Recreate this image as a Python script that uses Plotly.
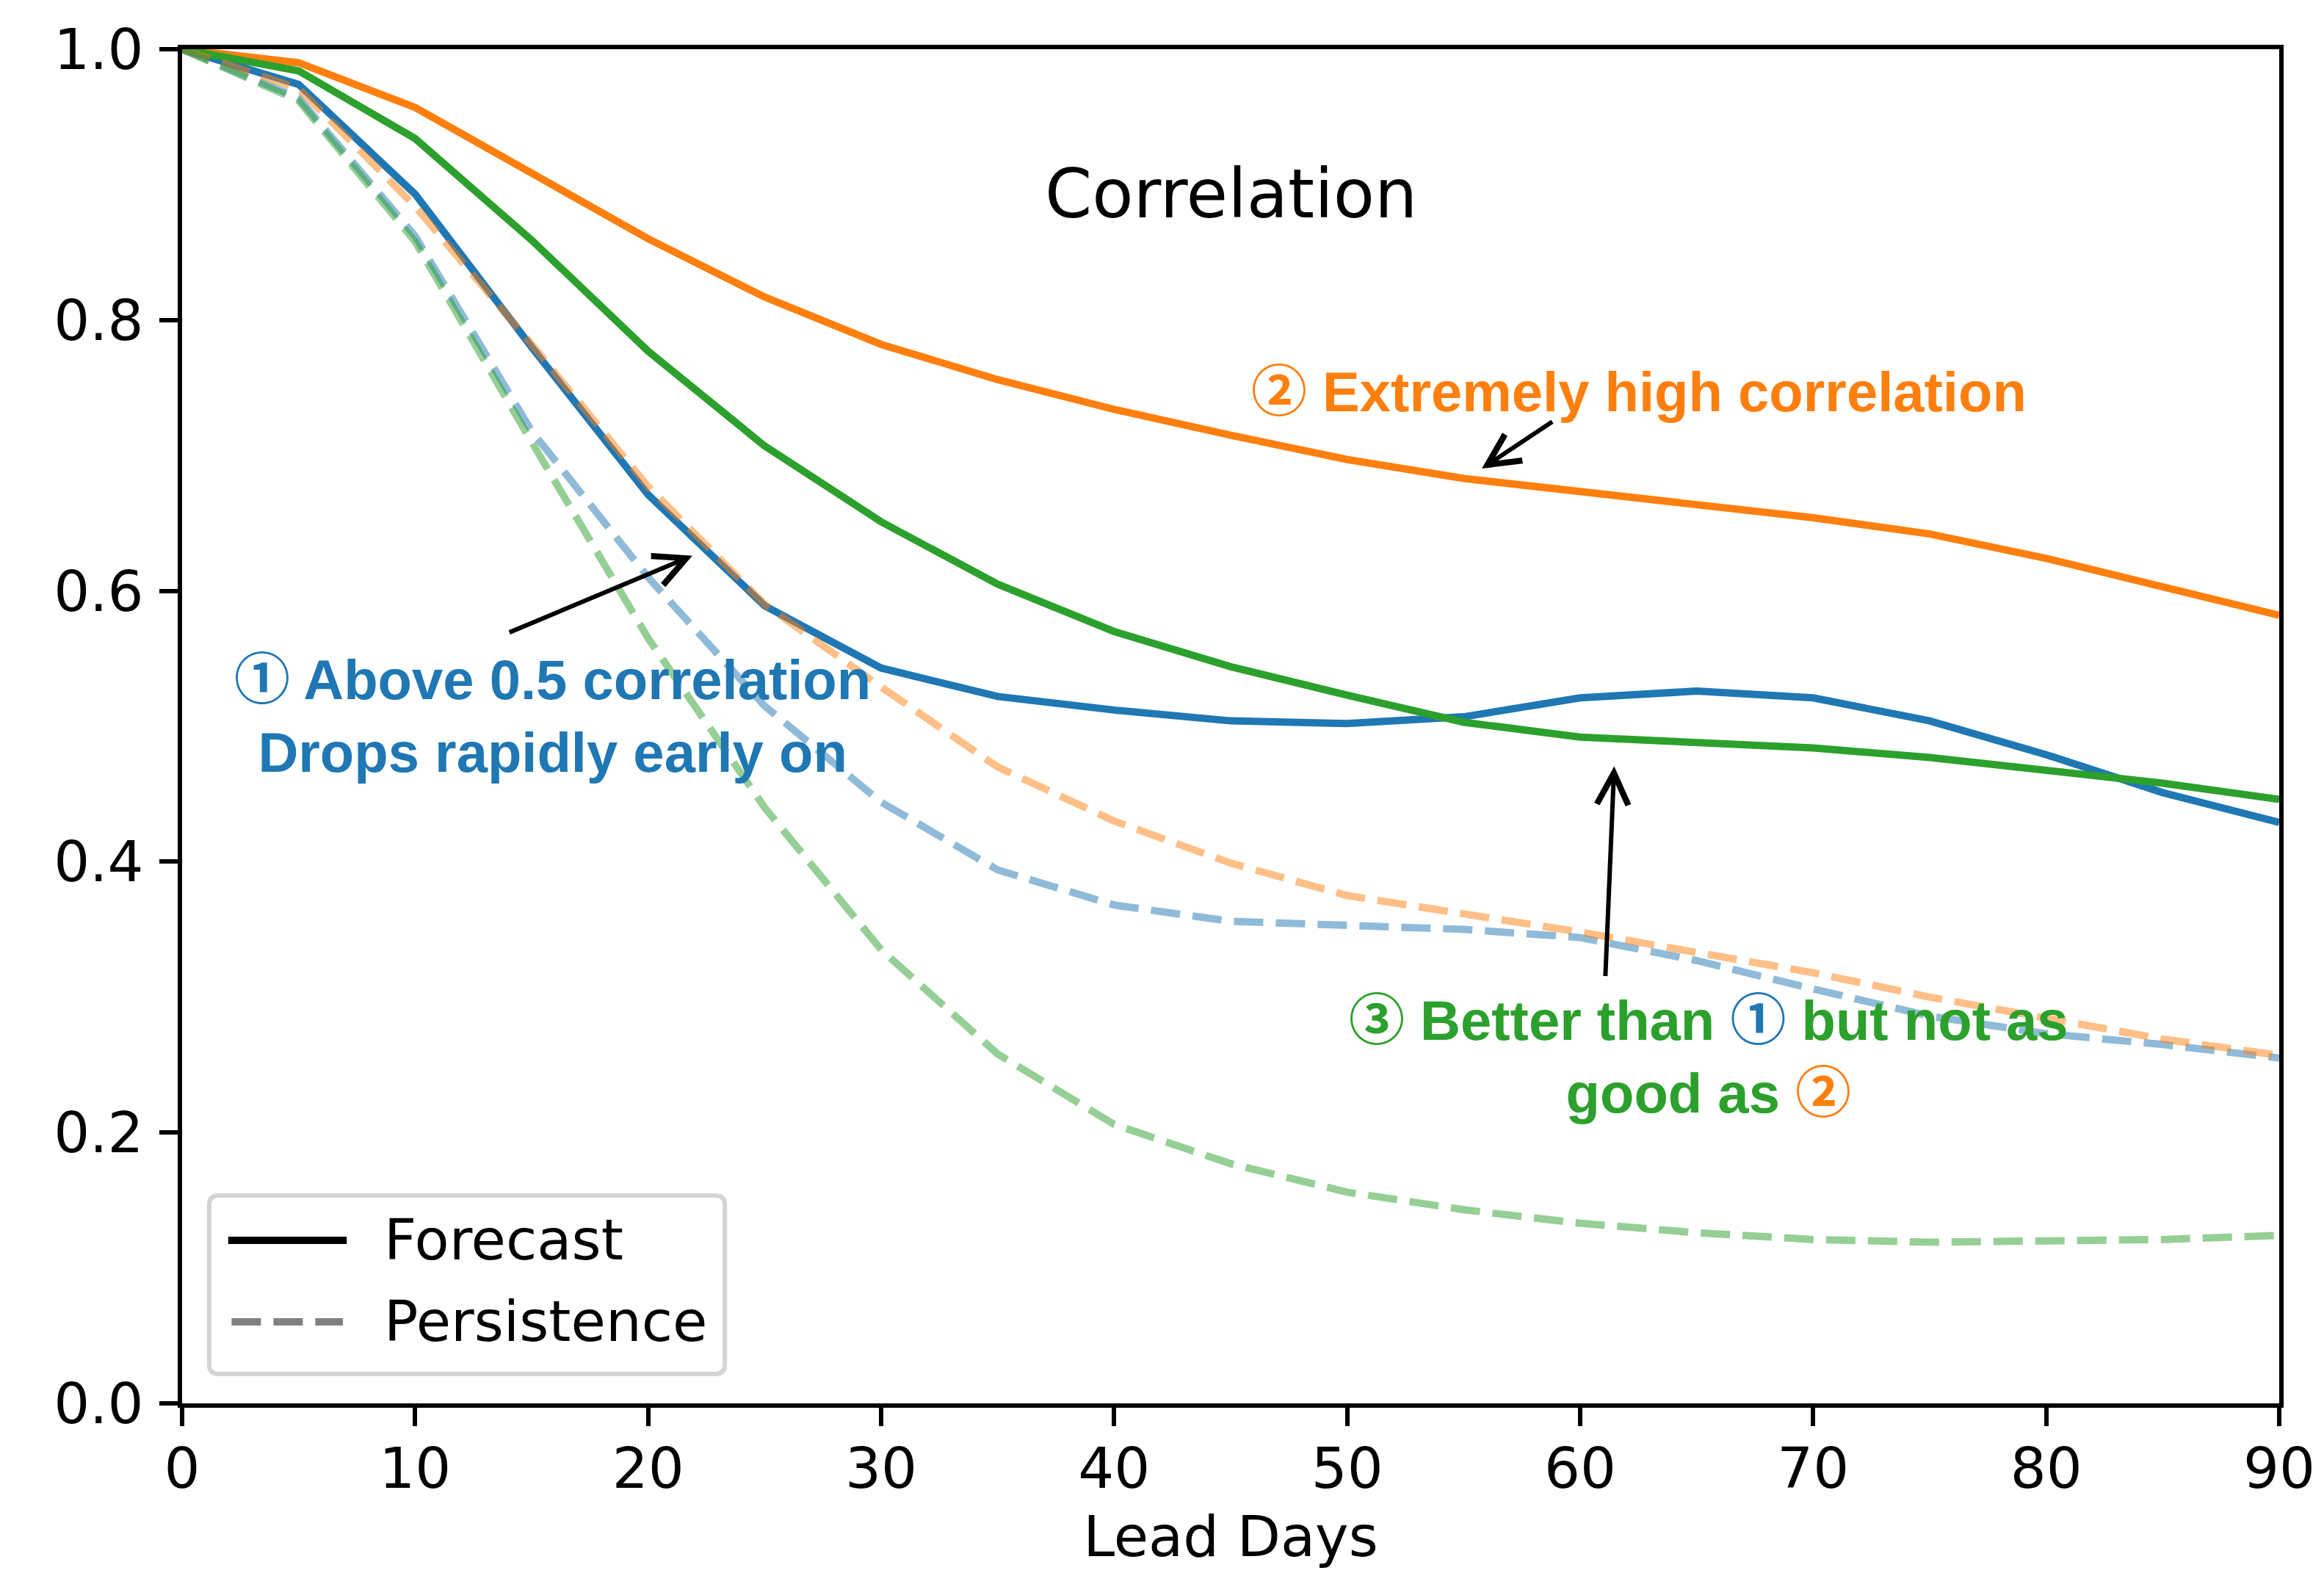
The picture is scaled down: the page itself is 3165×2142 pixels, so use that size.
import plotly.graph_objects as go

# ---------------- data ----------------
days = [0, 5, 10, 15, 20, 25, 30, 35, 40, 45, 50, 55, 60, 65, 70, 75, 80, 85, 90]

forecast_blue = [1.0, 0.974, 0.893, 0.780, 0.671, 0.589, 0.543, 0.522, 0.512, 0.504,
                 0.502, 0.507, 0.521, 0.526, 0.521, 0.504, 0.479, 0.451, 0.429]
forecast_orange = [1.0, 0.990, 0.957, 0.909, 0.860, 0.817, 0.782, 0.756, 0.734, 0.715,
                   0.697, 0.683, 0.673, 0.664, 0.654, 0.642, 0.624, 0.603, 0.582]
forecast_green = [1.0, 0.984, 0.934, 0.859, 0.777, 0.707, 0.651, 0.605, 0.570, 0.544,
                  0.523, 0.503, 0.492, 0.488, 0.484, 0.477, 0.468, 0.458, 0.446]

persist_blue = [1.0, 0.964, 0.862, 0.718, 0.610, 0.515, 0.444, 0.394, 0.368, 0.356,
                0.353, 0.350, 0.344, 0.327, 0.306, 0.286, 0.273, 0.265, 0.255]
persist_orange = [1.0, 0.971, 0.884, 0.782, 0.677, 0.590, 0.529, 0.470, 0.430, 0.399,
                  0.375, 0.362, 0.348, 0.333, 0.318, 0.300, 0.284, 0.269, 0.257]
persist_green = [1.0, 0.962, 0.858, 0.710, 0.565, 0.440, 0.335, 0.258, 0.206, 0.177,
                 0.156, 0.143, 0.133, 0.126, 0.121, 0.119, 0.120, 0.121, 0.124]

x_ticks = [0, 10, 20, 30, 40, 50, 60, 70, 80, 90]
y_ticks = [0.0, 0.2, 0.4, 0.6, 0.8, 1.0]
legend_labels = ["Forecast", "Persistence"]

# ---------------- styling ----------------
BLUE = "#1f77b4"
ORANGE = "#ff7f0e"
GREEN = "#2ca02c"
BLUE_A = "rgba(31,119,180,0.5)"
ORANGE_A = "rgba(255,127,14,0.5)"
GREEN_A = "rgba(44,160,44,0.5)"
LW = 10
DASH = "40px,17px"
TICK_FONT = "DejaVu Sans"
ANN_FONT = "Liberation Sans, Noto Sans CJK JP, sans-serif"

fig = go.Figure()
for ys, col in [(forecast_blue, BLUE), (forecast_orange, ORANGE), (forecast_green, GREEN)]:
    fig.add_trace(go.Scatter(x=days, y=ys, mode="lines",
                             line=dict(color=col, width=LW), showlegend=False,
                             hoverinfo="skip"))
for ys, col in [(persist_blue, BLUE_A), (persist_orange, ORANGE_A), (persist_green, GREEN_A)]:
    fig.add_trace(go.Scatter(x=days, y=ys, mode="lines",
                             line=dict(color=col, width=LW, dash=DASH), showlegend=False,
                             hoverinfo="skip"))

axis_common = dict(
    showline=True, linecolor="black", linewidth=6, mirror=True,
    ticks="outside", ticklen=25, tickwidth=6, tickcolor="black",
    showgrid=False, zeroline=False,
    tickfont=dict(family=TICK_FONT, size=77, color="black"),
)

fig.update_xaxes(range=[0, 90], tickvals=x_ticks, ticktext=[str(v) for v in x_ticks],
                 title=dict(text="Lead Days", font=dict(family=TICK_FONT, size=77, color="black"),
                            standoff=24),
                 ticklabelstandoff=-8, ticklabeloverflow="allow",
                 **axis_common)
fig.update_yaxes(range=[0, 1], tickvals=y_ticks, ticktext=[f"{v:.1f}" for v in y_ticks],
                 ticklabelstandoff=6, **axis_common)

annotations = []
# title inside the plot
annotations.append(dict(text="Correlation", xref="x domain", yref="y domain", x=0.5, y=0.893,
                        showarrow=False, xanchor="center", yanchor="middle",
                        font=dict(family=TICK_FONT, size=92, color="black")))

# annotation texts
def txt(text, x, y, color):
    return dict(text=text, x=x, y=y, xref="x", yref="y", showarrow=False,
                xanchor="center", yanchor="middle", align="center",
                font=dict(family=ANN_FONT, size=76, color=color, weight="bold"))

annotations.append(txt("① Above 0.5 correlation<br>Drops rapidly early on", 15.9, 0.5076, BLUE))
annotations.append(txt("② Extremely high correlation", 62.53, 0.747, ORANGE))
annotations.append(txt(f"③ Better than <span style='color:{BLUE}'>①</span> but not as<br>"
                       f"good as <span style='color:{ORANGE}'>②</span>", 65.5, 0.2557, GREEN))

# arrows (head x,y ; tail ax,ay)
def arrow(hx, hy, tx, ty):
    return dict(text="", x=hx, y=hy, ax=tx, ay=ty, xref="x", yref="y", axref="x", ayref="y",
                showarrow=True, arrowhead=5, arrowsize=1.4, arrowwidth=6, arrowcolor="black",
                standoff=0, startstandoff=0)

annotations.append(arrow(21.9, 0.626, 14.0, 0.569))
annotations.append(arrow(55.78, 0.6903, 58.85, 0.7254))
annotations.append(arrow(61.46, 0.4704, 61.08, 0.3148))

# legend (drawn manually to match the long line samples)
leg_x0, leg_x1, leg_y0, leg_y1 = 0.0129, 0.2588, 0.0217, 0.1535
rx, ry = 0.0045, 0.007
path = (f"M {leg_x0+rx},{leg_y0} L {leg_x1-rx},{leg_y0} Q {leg_x1},{leg_y0} {leg_x1},{leg_y0+ry} "
        f"L {leg_x1},{leg_y1-ry} Q {leg_x1},{leg_y1} {leg_x1-rx},{leg_y1} "
        f"L {leg_x0+rx},{leg_y1} Q {leg_x0},{leg_y1} {leg_x0},{leg_y1-ry} "
        f"L {leg_x0},{leg_y0+ry} Q {leg_x0},{leg_y0} {leg_x0+rx},{leg_y0} Z")
shapes = [
    dict(type="path", path=path, xref="x domain", yref="y domain",
         line=dict(color="#d4d4d4", width=6), fillcolor="rgba(255,255,255,0.8)", layer="above"),
    dict(type="line", xref="x domain", yref="y domain", x0=0.0220, x1=0.0785, y0=0.1204, y1=0.1204,
         line=dict(color="black", width=LW), layer="above"),
    dict(type="line", xref="x domain", yref="y domain", x0=0.0236, x1=0.0767, y0=0.0602, y1=0.0602,
         line=dict(color="#808080", width=LW, dash=DASH), layer="above"),
]
for lab, yy in zip(legend_labels, [0.1204, 0.0602]):
    annotations.append(dict(text=lab, xref="x domain", yref="y domain", x=0.0957, y=yy,
                            showarrow=False, xanchor="left", yanchor="middle",
                            font=dict(family=TICK_FONT, size=77, color="black")))

fig.update_layout(
    width=3165, height=2142,
    margin=dict(l=248, r=50, t=67, b=231, pad=0),
    paper_bgcolor="white", plot_bgcolor="white",
    annotations=annotations, shapes=shapes, showlegend=False,
)

# remove the default page margin so the figure fills the window exactly
fig.write_html("out.html",
               config={"displayModeBar": False},
               post_script="document.body.style.margin='0';document.body.style.overflow='hidden';")
